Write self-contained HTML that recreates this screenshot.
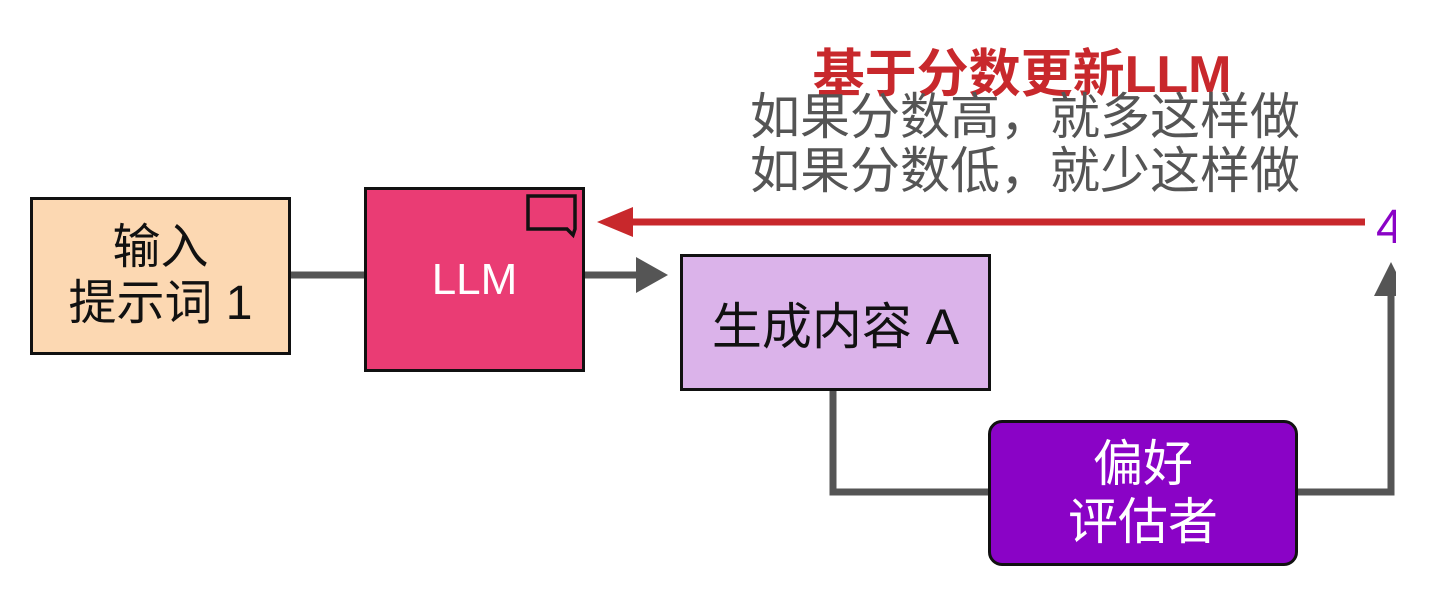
<!DOCTYPE html>
<html><head><meta charset="utf-8"><style>
body{margin:0;width:1446px;height:610px;background:#fff;position:relative;overflow:hidden;font-family:"Liberation Sans","Noto Sans CJK SC",sans-serif}
.b{position:absolute;box-sizing:border-box;border:3px solid #111;display:flex;align-items:center;justify-content:center;text-align:center}
.t{position:absolute;white-space:nowrap;text-align:center}
</style></head><body>
<svg width="1446" height="610" style="position:absolute;left:0;top:0">
<g stroke="#555" stroke-width="7" fill="none">
<line x1="290" y1="275" x2="366" y2="275"/>
<line x1="584" y1="275" x2="640" y2="275"/>
<polyline points="833,390 833,492 990,492"/>
<polyline points="1296,492 1391,492 1391,292"/>
</g>
<polygon points="668,275 636,257 636,293" fill="#555"/>
<polygon points="1391,262 1374,296 1408,296" fill="#555"/>
<line x1="1365" y1="222" x2="625" y2="222" stroke="#c8282c" stroke-width="7"/>
<polygon points="597,222 633,207 633,237" fill="#c8282c"/>
</svg>
<div class="b" style="left:30px;top:197px;width:261px;height:158px;background:#fcd8b2;font-size:48px;line-height:56px;color:#111">输入<br>提示词 1</div>
<div class="b" style="left:364px;top:187px;width:221px;height:185px;background:#ea3c74;color:#fff;font-size:44px">LLM</div>
<svg width="60" height="50" style="position:absolute;left:525px;top:193px"><path d="M3,3 H50 V36 L48,42 L42,36 H3 Z" fill="none" stroke="#111" stroke-width="3.5"/></svg>
<div class="b" style="left:680px;top:254px;width:311px;height:137px;background:#dbb3ea;font-size:50px;color:#111">生成内容 A</div>
<div class="b" style="left:988px;top:420px;width:310px;height:146px;background:#8a03c6;border-radius:14px;color:#fff;font-size:50px;line-height:58px">偏好<br>评估者</div>
<div class="t" style="left:622px;width:800px;top:32px;font-size:52px;font-weight:bold;color:#c8282c">基于分数更新LLM</div>
<div class="t" style="left:625px;width:800px;top:90px;font-size:50px;color:#555;line-height:54px">如果分数高，就多这样做<br>如果分数低，就少这样做</div>
<div class="t" style="left:1376px;top:200px;font-size:48px;color:#8a03c6">4</div>
<div style="position:absolute;left:1396px;top:0;width:50px;height:610px;background:#fff"></div>
</body></html>
